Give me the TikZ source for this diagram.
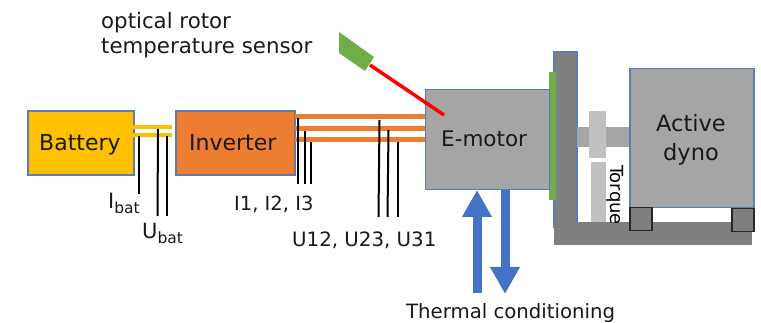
\documentclass[tikz,border=0pt]{standalone}
\usepackage{fontspec}
\setmainfont{DejaVu Sans}
\definecolor{frame}{HTML}{5B7DB1}
\definecolor{mgray}{HTML}{A5A5A5}
\definecolor{dgray}{HTML}{7F7F7F}
\definecolor{lgray}{HTML}{C0C0C0}
\definecolor{oran}{HTML}{ED7D31}
\definecolor{yell}{HTML}{FFC000}
\definecolor{grn}{HTML}{70AD47}
\definecolor{blu}{HTML}{4472C4}
\tikzset{
  block/.style={draw=frame,line width=1.5pt,minimum width=#1,inner sep=0pt,anchor=north west},
  txt/.style={inner sep=0pt,anchor=base west,text=black!90},
  sense/.style={draw=black,line width=2pt},
  phase/.style={draw=oran,line width=5pt},
  dc/.style={draw=yell,line width=4pt},
  flow/.style={line width=9pt,draw=blu,-{Triangle[length=27pt,width=28pt]},shorten >=0pt},
  solidpart/.style={inner sep=0pt,anchor=north west,outer sep=0pt},
  foot/.style={draw=black!85,line width=1.5pt,fill=dgray,inner sep=0pt,anchor=north west,minimum width=22pt,minimum height=23pt}
}
\usetikzlibrary{arrows.meta}
\begin{document}
\begin{tikzpicture}[x=1pt,y=-1pt]
\useasboundingbox (0,0) rectangle (761,323);
% column and base
\node[solidpart,draw=frame,line width=1.5pt,fill=dgray,minimum width=23pt,minimum height=175pt] (column) at (554,52) {};
\node[solidpart,fill=dgray,minimum width=198pt,minimum height=23pt] (base) at (554,222) {};
% dyno
\node[block=124pt,fill=mgray,minimum height=139pt] (dyno) at (629,68) {};
\node[solidpart,fill=mgray,minimum width=52pt,minimum height=20pt] (shaft) at (577,127) {};
\node[solidpart,fill=lgray,minimum width=17pt,minimum height=47pt] (coupling) at (589,111) {};
\node[solidpart,fill=lgray,minimum width=15pt,minimum height=60pt] (torquebar) at (591,162) {};
\node[foot] (foota) at (629,207) {};
\node[foot] (footb) at (731,208) {};
\node[font=\fontsize{18}{18}\selectfont,rotate=-90,inner sep=0pt,text=black,anchor=center] (torque) at (615,195) {Torque};
\node[font=\fontsize{22.5}{22.5}\selectfont,inner sep=0pt,align=center,text=black!90,anchor=center] (dynotxt) at (691,140) {Active\\[7pt]dyno};
% motor
\node[solidpart,fill=grn,minimum width=7pt,minimum height=128pt] (flange) at (549,72) {};
\node[block=124pt,fill=mgray,minimum height=100pt] (motor) at (424.5,89) {};
\node[txt,font=\fontsize{21.5}{21.5}\selectfont] (motortxt) at (441,147) {E-motor};
% battery, inverter
\node[block=106pt,fill=yell,minimum height=64pt] (battery) at (27,110.5) {};
\node[block=119pt,fill=oran,minimum height=64pt] (inverter) at (175,110.5) {};
\node[txt,font=\fontsize{22}{22}\selectfont] (battxt) at (39,151) {Battery};
\node[txt,font=\fontsize{22}{22}\selectfont] (invtxt) at (189,151) {Inverter};
% supply lines
\coordinate (ba) at (133,127); \coordinate (ia) at (172,127);
\coordinate (bb) at (133,135.5); \coordinate (ib) at (172,135.5);
\draw[dc] (ba) -- (ia);
\draw[dc] (bb) -- (ib);
\coordinate (p1a) at (295,117); \coordinate (m1) at (425,117);
\coordinate (p2a) at (295,128.5); \coordinate (m2) at (425,128.5);
\coordinate (p3a) at (295,140); \coordinate (m3) at (425,140);
\draw[phase] (p1a) -- (m1);
\draw[phase] (p2a) -- (m2);
\draw[phase] (p3a) -- (m3);
% sensing wires
\coordinate (s1a) at (139,136); \coordinate (s1b) at (139,194);
\coordinate (s2a) at (158,129); \coordinate (s2b) at (157.5,216);
\coordinate (s3a) at (166.5,136); \coordinate (s3b) at (166.5,216);
\coordinate (s4a) at (298,118); \coordinate (s4b) at (298,184);
\coordinate (s5a) at (305,131); \coordinate (s5b) at (305,184);
\coordinate (s6a) at (311,142); \coordinate (s6b) at (311,184);
\coordinate (s7a) at (379.5,120); \coordinate (s7b) at (378.5,217);
\coordinate (s8a) at (388.5,130); \coordinate (s8b) at (387.5,217);
\coordinate (s9a) at (398,142); \coordinate (s9b) at (398,217);
\foreach \n in {1,...,9} \draw[sense] (s\n a) -- (s\n b);
% sensor
\fill[grn] (339,32) -- (374,57) -- (365,71) -- (339,53) -- cycle;
\coordinate (sensorbeam) at (370,65);
\coordinate (sensorhit) at (444,115);
\draw[red,line width=3.5pt] (sensorbeam) -- (sensorhit);
% thermal
\coordinate (ta) at (477,293); \coordinate (tb) at (477,190);
\coordinate (tc) at (505,190); \coordinate (td) at (505,294);
\draw[flow] (ta) -- (tb);
\draw[flow] (tc) -- (td);
% labels
\node[txt,font=\fontsize{21.3}{21.3}\selectfont] (lab1) at (101,29) {optical rotor};
\node[txt,font=\fontsize{21.3}{21.3}\selectfont] (lab2) at (101,54) {temperature sensor};
\node[txt,font=\fontsize{21}{21}\selectfont] (ibat) at (108,209) {I\raisebox{-5pt}{\fontsize{15.5}{15.5}\selectfont bat}};
\node[txt,font=\fontsize{21}{21}\selectfont] (ubat) at (142,239) {U\raisebox{-5pt}{\fontsize{15.5}{15.5}\selectfont bat}};
\node[txt,font=\fontsize{19.5}{19.5}\selectfont] (icur) at (234,211) {I1, I2, I3};
\node[txt,font=\fontsize{19.8}{19.8}\selectfont] (uvolt) at (292,247) {U12, U23, U31};
\node[txt,font=\fontsize{19.7}{19.7}\selectfont] (therm) at (406,319) {Thermal conditioning};
\end{tikzpicture}
\end{document}
